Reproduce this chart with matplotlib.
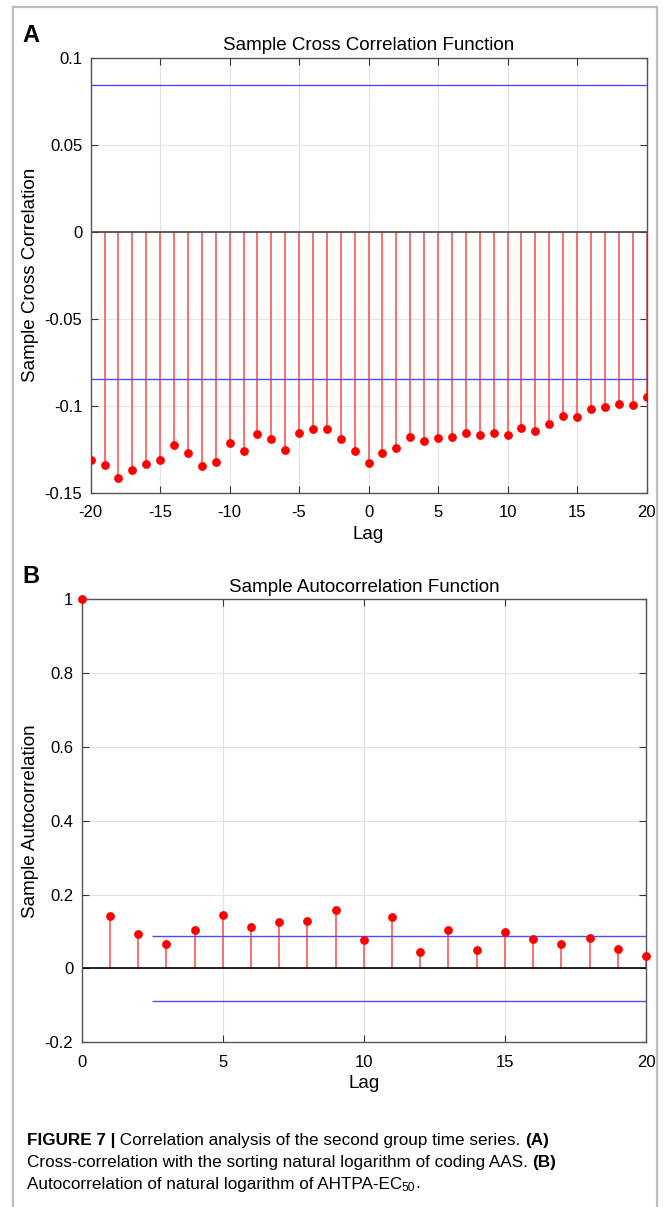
import numpy as np
import matplotlib
matplotlib.use("Agg")
import matplotlib.pyplot as plt
from matplotlib.transforms import IdentityTransform

plt.rcParams['font.family'] = ['Liberation Sans', 'DejaVu Sans']

# ---- data ----
lags_a = np.arange(-20, 21)
xcf = [-0.131, -0.1338, -0.1414, -0.137, -0.1334, -0.1311, -0.1227, -0.1269, -0.1347, -0.1326,
       -0.1216, -0.1261, -0.1162, -0.1189, -0.1256, -0.1158, -0.1132, -0.1132, -0.1191, -0.1261,
       -0.133, -0.1271, -0.1242, -0.1181, -0.1204, -0.1187, -0.1181, -0.1158, -0.1166, -0.1155,
       -0.1168, -0.1128, -0.1147, -0.1105, -0.1057, -0.1063, -0.1019, -0.101, -0.0992, -0.0995,
       -0.095]
bound_a = 0.0845

lags_b = np.arange(0, 21)
acf = [1.0, 0.1418, 0.0927, 0.0664, 0.1045, 0.1436, 0.1118, 0.1255, 0.1273, 0.159,
       0.0764, 0.139, 0.0445, 0.1055, 0.0509, 0.0982, 0.0809, 0.0673, 0.0818, 0.0536,
       0.0345]
bound_b = 0.087
bound_b_start = 2.5

W, H = 665, 1207
fig = plt.figure(figsize=(W / 100, H / 100), dpi=100)


def px_axes(l, t, r, b):
    return fig.add_axes([l / W, 1 - b / H, (r - l) / W, (b - t) / H])


def style(ax):
    ax.tick_params(direction='in', top=True, right=True, length=5, width=0.8,
                   labelsize=12, color='#333333', pad=6)
    ax.tick_params(axis='x', pad=9)
    ax.grid(True, color='#e3e3e3', lw=0.8)
    ax.set_axisbelow(True)
    for s in ax.spines.values():
        s.set_color('#555555')
        s.set_linewidth(1.0)


stem_col = '#ff6363'

# ---- panel A ----
ax1 = px_axes(90.7, 58.0, 646.5, 492.7)
style(ax1)
ax1.vlines(lags_a, 0, xcf, color=stem_col, lw=1.3, zorder=2)
ax1.plot(lags_a, xcf, 'o', color='red', ms=5.3, mec='red', zorder=3)
ax1.axhline(0, color='#444444', lw=1.2, zorder=2)
ax1.axhline(bound_a, color='#4d4dff', lw=1.0, zorder=2)
ax1.axhline(-bound_a, color='#4d4dff', lw=1.0, zorder=2)
ax1.set_xlim(-20, 20)
ax1.set_ylim(-0.15, 0.1)
ax1.set_xticks(np.arange(-20, 21, 5))
ax1.set_yticks([-0.15, -0.1, -0.05, 0, 0.05, 0.1])
ax1.set_yticklabels(['-0.15', '-0.1', '-0.05', '0', '0.05', '0.1'])
ax1.set_xticklabels([str(v) for v in range(-20, 21, 5)])
ax1.set_xlabel('Lag', fontsize=13.5, labelpad=4)
ax1.set_ylabel('Sample Cross Correlation', fontsize=13.5, labelpad=4)

# ---- panel B ----
ax2 = px_axes(81.7, 599.3, 646.0, 1042.3)
style(ax2)
ax2.vlines(lags_b, 0, acf, color=stem_col, lw=1.3, zorder=2)
ax2.plot(lags_b, acf, 'o', color='red', ms=5.3, mec='red', zorder=3, clip_on=False)
ax2.axhline(0, color='black', lw=1.2, zorder=2)
ax2.hlines([bound_b, -bound_b], bound_b_start, 20, color='#4d4dff', lw=1.0, zorder=2)
ax2.set_xlim(0, 20)
ax2.set_ylim(-0.2, 1.0)
ax2.set_xticks(np.arange(0, 21, 5))
ax2.set_yticks([-0.2, 0, 0.2, 0.4, 0.6, 0.8, 1.0])
ax2.set_yticklabels(['-0.2', '0', '0.2', '0.4', '0.6', '0.8', '1'])
ax2.set_xlabel('Lag', fontsize=13.5, labelpad=4)
ax2.set_ylabel('Sample Autocorrelation', fontsize=13.5, labelpad=4)

# titles and panel letters (pixel positions)
fig.text((90.7 + 646.5) / 2 / W, 1 - 45 / H, 'Sample Cross Correlation Function',
         ha='center', va='center', fontsize=13.5)
fig.text((81.7 + 646.0) / 2 / W, 1 - 587 / H, 'Sample Autocorrelation Function',
         ha='center', va='center', fontsize=13.5)
fig.text(22 / W, 1 - 35 / H, 'A', ha='left', va='center', fontsize=17, fontweight='bold')
fig.text(22 / W, 1 - 577 / H, 'B', ha='left', va='center', fontsize=17, fontweight='bold')

# frame
frame_kw = dict(color='#bdbdbd', lw=1.6, transform=IdentityTransform())
fig.add_artist(plt.Line2D([12.7, 12.7], [0, H - 7], **frame_kw))
fig.add_artist(plt.Line2D([12.7, 657], [H - 7, H - 7], **frame_kw))
fig.add_artist(plt.Line2D([657, 657], [0, H - 7], **frame_kw))

# caption, built run by run
renderer = fig.canvas.get_renderer()
cap_font = ['Liberation Sans Narrow', 'Liberation Sans']
cap_size = 12.3


def put_runs(x, y, runs):
    for s, bold in runs:
        t = fig.text(x, H - y, s, fontsize=cap_size, family=cap_font,
                     fontweight='bold' if bold else 'normal', va='center',
                     transform=IdentityTransform())
        x = t.get_window_extent(renderer).x1
    return x


put_runs(26.7, 1141, [('FIGURE 7 |', True),
                      (' Correlation analysis of the second group time series. ', False),
                      ('(A)', True)])
put_runs(26.7, 1163, [('Cross-correlation with the sorting natural logarithm of coding AAS. ', False),
                      ('(B)', True)])
xe = put_runs(26.7, 1184, [('Autocorrelation of natural logarithm of AHTPA-EC', False)])
t = fig.text(xe, H - 1188, '50', fontsize=cap_size * 0.7, family=cap_font, va='center',
             transform=IdentityTransform())
xe = t.get_window_extent(renderer).x1
fig.text(xe, H - 1184, '.', fontsize=cap_size, family=cap_font, va='center',
         transform=IdentityTransform())

fig.savefig('out.png', dpi=100)
